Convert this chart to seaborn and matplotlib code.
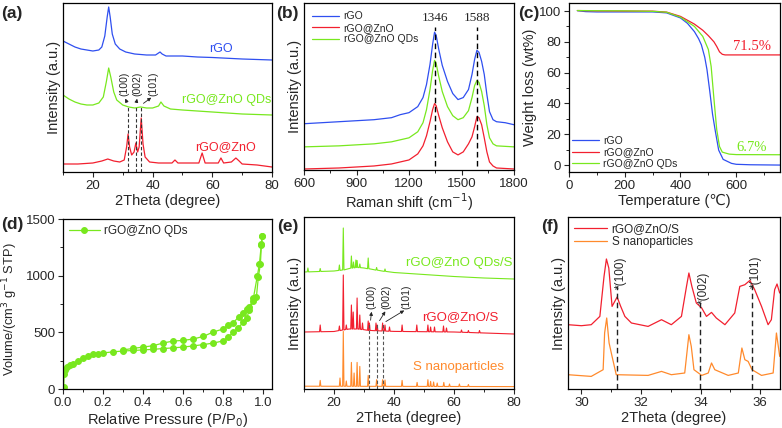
import numpy as np
import pandas as pd
import matplotlib
matplotlib.use("Agg")
import matplotlib.pyplot as plt
import seaborn as sns
from matplotlib.ticker import MultipleLocator

sns.set_theme(style="ticks")
plt.rcParams['font.family'] = ['Liberation Sans', 'DejaVu Sans']
plt.rcParams.update({
    'axes.linewidth': 0.9, 'axes.edgecolor': 'black',
    'xtick.direction': 'out', 'ytick.direction': 'out',
    'xtick.major.size': 3.5, 'ytick.major.size': 3.5,
    'xtick.minor.size': 2, 'ytick.minor.size': 2,
    'xtick.major.width': 0.8, 'ytick.major.width': 0.8,
    'xtick.minor.width': 0.7, 'ytick.minor.width': 0.7,
    'xtick.labelsize': 9.5, 'ytick.labelsize': 9.5,
    'axes.labelsize': 10.5, 'xtick.major.pad': 2, 'ytick.major.pad': 2,
    'axes.labelpad': 1.5,
})

BLUE = "#2f4ff0"
RED = "#f2202f"
GREEN = "#78e81e"
ORANGE = "#ff8a2c"
SERIF = ['Liberation Serif', 'DejaVu Serif']

# ---------------- (a) XRD ----------------
a_rgo_x = [10, 12, 14, 16, 18, 20, 22, 23, 24, 24.8, 25.3, 25.8, 26.5, 27.5, 29, 31, 34, 38, 41, 42.5, 43.2, 44.5, 50, 55, 60, 70, 80]
a_rgo_y = [131, 128, 125, 123, 122, 121, 122, 125, 136, 155, 165, 155, 138, 128, 123, 120, 118, 117, 117, 120, 118, 116, 116, 115, 114.5, 113, 112]
a_qds_x = [10, 12, 14, 16, 18, 20, 22, 23.5, 24.5, 25.3, 26, 27, 28, 30, 32, 34, 36, 38, 40, 42, 42.8, 43.8, 46, 50, 55, 60, 70, 80]
a_qds_y = [77, 73, 70, 68, 67, 67, 69, 75, 90, 104, 95, 80, 72, 67, 65, 64, 65, 64, 64, 66, 70, 66, 63, 62, 61, 60, 58, 57]
a_zno_x = [10, 15, 20, 23, 25, 27, 29, 30.5, 31.3, 31.8, 32.3, 33, 33.8, 34.4, 35, 35.5, 36.2, 36.8, 37.5, 39, 42, 46.5, 47.5, 48.5, 55.5, 56.6, 57.6, 62, 62.9, 63.8, 66.4, 67.9, 69, 70, 75, 80]
a_zno_y = [8, 8, 9, 11, 13, 11, 10, 12, 25, 38, 25, 17, 20, 29, 20, 25, 54, 28, 15, 10, 9, 9, 12, 9, 9, 19, 9, 9, 14, 9, 10, 14, 11, 8, 7, 5]
zno_peaks = [31.8, 34.4, 36.2]
zno_hkl = ["(100)", "(002)", "(101)"]

# ---------------- (b) Raman ----------------
b_x = [600, 700, 800, 900, 1000, 1100, 1150, 1200, 1250, 1280, 1300, 1320, 1335, 1346, 1355, 1370, 1390, 1420, 1450, 1480, 1510, 1540, 1560, 1575, 1588, 1600, 1615, 1630, 1645, 1660, 1680, 1700, 1750, 1800]
b_rgo = [46, 47, 48, 49, 50, 52, 55, 57, 63, 72, 85, 105, 125, 137, 134, 120, 104, 88, 76, 70, 72, 80, 95, 110, 119, 117, 108, 95, 75, 58, 50, 48, 47, 45]
b_zno = [1, 1.5, 2, 3, 4, 6, 8, 10, 16, 24, 34, 48, 60, 66, 64, 54, 42, 28, 18, 15, 18, 26, 33, 43, 53, 52, 45, 32, 18, 8, 4, 2, 1.5, 1]
b_qds = [23, 23.5, 24, 25, 26, 28, 30, 32, 38, 47, 60, 80, 99, 109, 106, 93, 78, 63, 54, 50, 52, 59, 72, 84, 89, 87, 78, 64, 45, 32, 26, 24, 23.5, 23]
raman_bands = [1346, 1588]

# ---------------- (c) TGA ----------------
c_rgo_t = [30, 60, 100, 200, 300, 350, 400, 425, 450, 465, 475, 487, 495, 505, 515, 525, 537, 553, 583, 600, 650, 757]
c_rgo_w = [100.2, 99.6, 99.4, 99.4, 99.4, 98.8, 95.5, 92, 86.6, 82, 78, 70, 62, 48, 33, 22, 9.7, 3.7, 1.1, 0.5, 0.2, 0.0]
c_zno_t = [30, 100, 200, 300, 350, 400, 450, 480, 500, 520, 530, 540, 550, 560, 580, 757]
c_zno_w = [100.3, 100.1, 100.0, 99.9, 99.3, 96.5, 91.5, 87.5, 84, 80, 77, 73.5, 71.9, 71.5, 71.5, 71.5]
c_qds_t = [30, 100, 200, 300, 350, 400, 450, 480, 500, 510, 520, 530, 540, 550, 575, 600, 757]
c_qds_w = [100.3, 100.2, 100.1, 99.8, 99.2, 96, 90, 83.5, 75, 64, 43, 23, 12, 8.4, 7.1, 6.8, 6.7]

# ---------------- (d) N2 isotherm ----------------
d_ads_p = [0.003, 0.006, 0.01, 0.02, 0.035, 0.05, 0.075, 0.1, 0.125, 0.15, 0.175, 0.2, 0.25, 0.3, 0.35, 0.4, 0.45, 0.5, 0.55, 0.6, 0.65, 0.7, 0.75, 0.8, 0.825, 0.85, 0.875, 0.9, 0.917, 0.93, 0.95, 0.965, 0.975, 0.985, 0.99, 0.995]
d_ads_v = [20, 130, 170, 195, 210, 222, 245, 270, 290, 305, 312, 318, 328, 335, 340, 345, 350, 357, 363, 370, 380, 392, 405, 425, 460, 500, 540, 590, 626, 700, 780, 810, 990, 1100, 1270, 1350]
d_des_p = [0.995, 0.99, 0.98, 0.97, 0.95, 0.93, 0.917, 0.9, 0.876, 0.85, 0.825, 0.8, 0.75, 0.7, 0.65, 0.6, 0.55, 0.5, 0.45, 0.4, 0.35, 0.3]
d_des_v = [1350, 1280, 1100, 1000, 800, 720, 706, 670, 635, 585, 567, 530, 503, 464, 441, 429, 423, 406, 382, 370, 358, 345]

# ---------------- (e) XRD with S ----------------
e_s_base_x = [10, 80]
e_s_base_y = [2.8, 2.4]
e_s_peak_x = [15.4, 22.0, 23.1, 24.1, 25.8, 26.7, 27.7, 28.6, 31.4, 34.2, 36.2, 37.0, 42.7, 47.7, 51.3, 52.2, 53.2, 54.4, 56.6, 58.5, 61.8, 64.8]
e_s_peak_y = [8.6, 11, 57.6, 8, 26.6, 16, 26.6, 22.6, 13.6, 9.3, 9.3, 9, 8.6, 6.6, 9.3, 7.6, 7, 6, 6.6, 5, 5, 4.5]
e_zs_base_x = [10, 20, 25, 28, 32, 40, 60, 80]
e_zs_base_y = [57, 57.5, 60, 60, 58.5, 57.6, 57, 55]
e_zs_peak_x = [15.4, 21.8, 23.1, 24.1, 25.8, 26.4, 27.7, 28.6, 29.5, 31.4, 31.8, 34.0, 34.4, 36.2, 37.0, 38.5, 42.7, 47.6, 51.3, 52.2, 53.5, 56.5, 57.5, 62.5, 64.8, 68.5]
e_zs_peak_y = [64, 63, 114, 64, 84, 77, 91, 74, 66, 68, 66, 66, 64, 66, 64, 62, 64, 64, 64, 62, 62, 63, 61, 59, 58.5, 58.5]
e_qs_base_x = [10, 15, 20, 23, 26, 28, 30, 33, 36, 40, 50, 60, 70, 80]
e_qs_base_y = [117, 117.5, 118, 119, 121, 121.5, 121, 119.5, 118, 116.5, 114.5, 112.5, 111, 110]
e_qs_peak_x = [11.3, 15.4, 21.8, 23.1, 25.8, 26.5, 27.3, 27.7, 28.6, 31.4, 34.2, 37.0]
e_qs_peak_y = [121, 120.5, 124, 161, 133, 127, 129, 128.5, 125, 131, 121.5, 120]

# ---------------- (f) zoomed XRD ----------------
f_zs_x = [29.55, 30.0, 30.33, 30.62, 30.76, 30.84, 30.92, 31.03, 31.12, 31.20, 31.32, 31.46, 31.68, 32.24, 32.69, 33.02, 33.36, 33.53, 33.61, 33.71, 33.86, 34.04, 34.20, 34.37, 34.53, 34.82, 35.15, 35.32, 35.49, 35.66, 35.82, 36.05, 36.27, 36.38, 36.49, 36.57, 36.66]
f_zs_y = [64.3, 63.3, 64.3, 72.6, 112.6, 130, 121, 82.6, 87.6, 92, 82.6, 72.6, 66, 62.6, 69.3, 64.3, 72.6, 102.6, 116, 102.6, 86, 81, 72.6, 76.6, 71, 64.3, 76, 102.6, 104.3, 108.6, 99.3, 82.6, 64.3, 69.3, 99.3, 105, 96]
f_s_x = [29.55, 30.33, 30.73, 30.78, 30.85, 30.93, 31.03, 31.17, 32.24, 32.69, 33.02, 33.47, 33.61, 33.69, 33.78, 34.04, 34.26, 34.37, 34.48, 34.93, 35.27, 35.39, 35.49, 35.60, 35.73, 36.05, 36.44, 36.55, 36.66]
f_s_y = [14.3, 12.6, 19.3, 56, 71, 46, 32.6, 14.3, 13.6, 17.6, 14.3, 16, 54.3, 42.6, 19.3, 13.6, 16, 26, 19.3, 13.6, 16, 41, 29.3, 27.6, 19.3, 13.6, 16, 56, 32.6]
f_lines_x = [31.20, 33.98, 35.74]
f_lines_top = [103, 88, 104]
f_labels = ["*(100)", "*(002)", "*(101)"]


def stick_spectrum(bx, by, px, py, w=0.22):
    pts = []
    for x, y in zip(bx, by):
        pts.append((x, y))
    for p, h in zip(px, py):
        b = float(np.interp(p, bx, by))
        pts = [(x, y) for (x, y) in pts if not (p - w < x < p + w)]
        pts += [(p - w, b), (p, h), (p + w, b)]
    pts.sort()
    return pd.DataFrame(pts, columns=["x", "y"])


def line(ax, x, y, color, lw=0.9, label=None, **kw):
    df = pd.DataFrame({"x": x, "y": y})
    sns.lineplot(data=df, x="x", y="y", ax=ax, color=color, lw=lw, label=label,
                 estimator=None, sort=False, legend=False, **kw)


W, H = 782, 428
fig = plt.figure(figsize=(W / 100, H / 100), dpi=100)


def add_ax(l, r, t, b):
    return fig.add_axes([l / W, 1 - b / H, (r - l) / W, (b - t) / H])


axa = add_ax(63, 272, 3, 172)
axb = add_ax(304, 514, 3, 170)
axc = add_ax(569, 780, 3, 172)
axd = add_ax(63, 272, 219, 389)
axe = add_ax(304, 514, 217, 389)
axf = add_ax(568, 780, 217, 389)

# ---- (a)
line(axa, a_rgo_x, a_rgo_y, BLUE)
line(axa, a_qds_x, a_qds_y, GREEN)
line(axa, a_zno_x, a_zno_y, RED)
axa.vlines(zno_peaks, 0, 66, colors="#333333", linestyles=(0, (3, 2)), lw=0.8)
for px, tx, lab in zip(zno_peaks, [30.5, 35.0, 40.3], zno_hkl):
    axa.text(tx, 76, lab, rotation=90, ha="center", va="bottom", fontsize=7.5)
    axa.annotate("", xy=(tx, 76), xytext=(px, 67),
                 arrowprops=dict(arrowstyle="-|>", lw=0.6, color="#222222", mutation_scale=5))
axa.text(63, 123, "rGO", color=BLUE, fontsize=9, ha="center", va="center")
axa.text(79.8, 72, "rGO@ZnO QDs", color=GREEN, fontsize=9, ha="right", va="center")
axa.text(64.5, 25, "rGO@ZnO", color=RED, fontsize=9, ha="center", va="center")
axa.set_xlim(10, 80)
axa.set_ylim(0, 169)
axa.xaxis.set_major_locator(MultipleLocator(20))
axa.xaxis.set_minor_locator(MultipleLocator(10))
axa.set_yticks([])
axa.set_xlabel("2Theta (degree)")
axa.set_ylabel("Intensity (a.u.)")

# ---- (b)
line(axb, b_x, b_rgo, BLUE, label="rGO")
line(axb, b_x, b_zno, RED, label="rGO@ZnO")
line(axb, b_x, b_qds, GREEN, label="rGO@ZnO QDs")
axb.vlines(raman_bands, 4, 142, colors="black", linestyles=(0, (4, 2.5)), lw=1.0)
for v in raman_bands:
    axb.text(v, 145, str(v), family=SERIF, fontsize=9.5, ha="center", va="bottom")
axb.set_xlim(600, 1800)
axb.set_ylim(0, 166)
axb.xaxis.set_major_locator(MultipleLocator(300))
axb.xaxis.set_minor_locator(MultipleLocator(150))
axb.set_yticks([])
axb.set_xlabel("Raman shift (cm$^{-1}$)")
axb.set_ylabel("Intensity (a.u.)")
axb.legend(loc="upper left", frameon=False, fontsize=7.5, handlelength=2.6,
           handletextpad=0.4, labelspacing=0.15, borderaxespad=0.7, borderpad=0.1)

# ---- (c)
line(axc, c_rgo_t, c_rgo_w, BLUE, label="rGO")
line(axc, c_zno_t, c_zno_w, RED, label="rGO@ZnO")
line(axc, c_qds_t, c_qds_w, GREEN, label="rGO@ZnO QDs")
axc.text(656, 76.8, "71.5%", color=RED, family=SERIF, fontsize=10.5, ha="center", va="center")
axc.text(656, 11.7, "6.7%", color=GREEN, family=SERIF, fontsize=10.5, ha="center", va="center")
axc.set_xlim(0, 757)
axc.set_ylim(-4.5, 105.2)
axc.xaxis.set_major_locator(MultipleLocator(200))
axc.xaxis.set_minor_locator(MultipleLocator(100))
axc.yaxis.set_major_locator(MultipleLocator(20))
axc.yaxis.set_minor_locator(MultipleLocator(10))
axc.set_xlabel("Temperature (\u2103)")
axc.set_ylabel("Weight loss (wt%)")
axc.legend(loc="lower left", frameon=False, fontsize=7.5, handlelength=2.6,
           handletextpad=0.4, labelspacing=0.15, borderaxespad=0.2, borderpad=0.1)

# ---- (d)
line(axd, d_ads_p, d_ads_v, GREEN, lw=0.9, marker="o", markersize=4.2,
     markeredgecolor=GREEN, label="rGO@ZnO QDs")
line(axd, d_des_p, d_des_v, GREEN, lw=0.9, marker="o", markersize=4.2,
     markeredgecolor=GREEN)
axd.set_xlim(0, 1.043)
axd.set_ylim(0, 1500)
axd.xaxis.set_major_locator(MultipleLocator(0.2))
axd.xaxis.set_minor_locator(MultipleLocator(0.1))
axd.yaxis.set_major_locator(MultipleLocator(500))
axd.yaxis.set_minor_locator(MultipleLocator(250))
axd.xaxis.set_major_formatter(matplotlib.ticker.FormatStrFormatter("%.1f"))
axd.set_xlabel("Relative Pressure (P/P$_0$)")
axd.set_ylabel("Volume/(cm$^3$ g$^{-1}$ STP)", fontsize=9.3, labelpad=0.5)
axd.yaxis.set_label_coords(-0.205, 0.47)
axd.legend(loc="upper left", frameon=False, fontsize=8.5, handlelength=2.6,
           handletextpad=0.4, borderaxespad=0.3, borderpad=0.2)

# ---- (e)
for bx, by, px, py, col in [
    (e_s_base_x, e_s_base_y, e_s_peak_x, e_s_peak_y, ORANGE),
    (e_zs_base_x, e_zs_base_y, e_zs_peak_x, e_zs_peak_y, RED),
    (e_qs_base_x, e_qs_base_y, e_qs_peak_x, e_qs_peak_y, GREEN),
]:
    df = stick_spectrum(bx, by, px, py)
    line(axe, df["x"], df["y"], col, lw=0.8)
axe.vlines(zno_peaks, 0, 66, colors="#555555", linestyles=(0, (3, 2)), lw=0.8)
for px, tx, lab in zip(zno_peaks, [32.6, 37.6, 44.2], zno_hkl):
    axe.text(tx, 80, lab, rotation=90, ha="center", va="bottom", fontsize=7.5)
    axe.annotate("", xy=(tx, 80), xytext=(px + 0.3, 66),
                 arrowprops=dict(arrowstyle="-|>", lw=0.6, color="#222222", mutation_scale=5))
axe.text(79.6, 126, "rGO@ZnO QDs/S", color=GREEN, fontsize=9.5, ha="right", va="center")
axe.text(62.2, 72, "rGO@ZnO/S", color=RED, fontsize=9.5, ha="center", va="center")
axe.text(61.6, 22, "S nanoparticles", color=ORANGE, fontsize=9.5, ha="center", va="center")
axe.set_xlim(10, 80)
axe.set_ylim(0, 172)
axe.xaxis.set_major_locator(MultipleLocator(20))
axe.xaxis.set_minor_locator(MultipleLocator(10))
axe.set_yticks([])
axe.set_xlabel("2Theta (degree)")
axe.set_ylabel("Intensity (a.u.)")

# ---- (f)
line(axf, f_zs_x, f_zs_y, RED, label="rGO@ZnO/S")
line(axf, f_s_x, f_s_y, ORANGE, label="S nanoparticles")
axf.vlines(f_lines_x, 0, f_lines_top, colors="#222222", linestyles=(0, (4, 2.5)), lw=1.0)
for x0, top, lab in zip(f_lines_x, f_lines_top, f_labels):
    axf.text(x0 + 0.13, top - 3, lab, rotation=90, ha="center", va="bottom", fontsize=8.5)
axf.set_xlim(29.55, 36.67)
axf.set_ylim(0, 172)
axf.xaxis.set_major_locator(MultipleLocator(2))
axf.xaxis.set_minor_locator(MultipleLocator(1))
axf.set_yticks([])
axf.set_xlabel("2Theta (degree)")
axf.set_ylabel("Intensity (a.u.)")
axf.legend(loc="upper left", frameon=False, fontsize=8.5, handlelength=2.8,
           handletextpad=0.4, labelspacing=0.1, borderaxespad=0.4, borderpad=0.1)

# panel labels
for lab, x, y in [("(a)", 1, 6), ("(b)", 276, 6), ("(c)", 518, 6),
                  ("(d)", 1, 217), ("(e)", 277, 219), ("(f)", 541, 219)]:
    fig.text(x / W, 1 - y / H, lab, fontsize=12.5, fontweight="bold", ha="left", va="top")

fig.savefig("out.png", dpi=100)
